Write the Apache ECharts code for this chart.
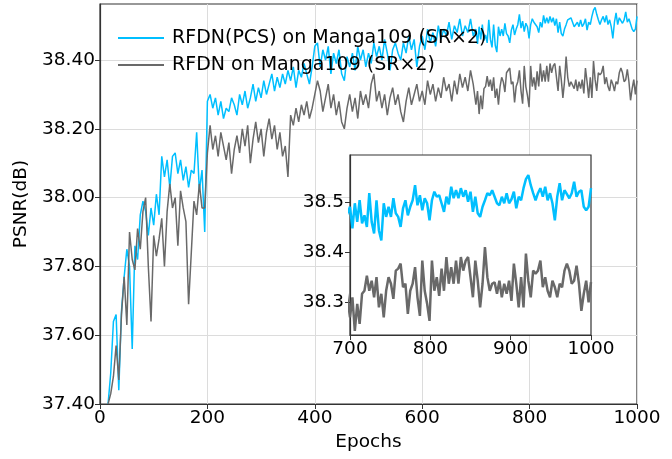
<!DOCTYPE html>
<html>
<head>
<meta charset="utf-8">
<script src="https://cdn.jsdelivr.net/npm/echarts@6/dist/echarts.min.js"></script>
<style>
html,body{margin:0;padding:0;background:#fff;}
#c{width:672px;height:459px;}
</style>
</head>
<body>
<div id="c"></div>
<script>
// ---------- data ----------
const seriesNames = ['RFDN(PCS) on Manga109 (SR\u00d72)', 'RFDN on Manga109 (SR\u00d72)'];
const xTicks = [0, 200, 400, 600, 800, 1000];
const yTicks = [37.40, 37.60, 37.80, 38.00, 38.20, 38.40];
const insetXTicks = [700, 800, 900, 1000];
const insetYTicks = [38.3, 38.4, 38.5];

// epochs 15..695 every 5
const epochsEarly = [];
for (let e = 15; e <= 695; e += 5) epochsEarly.push(e);
// epochs 700..997 every 3, then 1000
const epochsLate = [];
for (let e = 700; e <= 997; e += 3) epochsLate.push(e);
epochsLate.push(1000);

const pcsEarly = [
37.40,37.49,37.64,37.66,37.44,37.67,37.77,37.85,37.80,37.56,
37.86,37.82,37.95,37.99,37.96,37.89,37.97,37.92,38.01,37.95,
38.12,38.06,38.11,38.03,38.12,38.13,38.07,38.11,38.05,38.09,
38.03,38.08,38.07,38.19,38.02,38.08,37.90,38.28,38.30,38.26,
38.29,38.24,38.28,38.23,38.26,38.25,38.29,38.27,38.24,38.30,
38.27,38.31,38.26,38.29,38.33,38.28,38.32,38.29,38.34,38.30,
38.33,38.36,38.31,38.35,38.32,38.36,38.33,38.37,38.34,38.38,
38.32,38.37,38.35,38.39,38.36,38.33,38.38,38.44,38.45,38.38,
38.43,38.40,38.44,38.36,38.42,38.39,38.43,38.36,38.34,38.41,
38.38,38.42,38.37,38.44,38.40,38.43,38.38,38.42,38.39,38.45,
38.41,38.44,38.40,38.46,38.42,38.37,38.43,38.45,38.42,38.40,
38.45,38.42,38.47,38.43,38.46,38.38,38.44,38.47,38.43,38.49,
38.45,38.48,38.44,38.50,38.46,38.49,38.47,38.51,38.46,38.50,
38.48,38.52,38.47,38.50,38.48,38.52,38.47
];
const baseEarly = [
37.40,37.43,37.48,37.57,37.47,37.66,37.77,37.63,37.90,37.82,
37.79,37.91,37.85,37.96,38.00,37.80,37.64,37.89,37.83,37.88,
37.94,37.80,37.96,38.04,37.97,38.00,37.86,38.02,37.97,37.93,
37.69,37.84,37.99,37.95,38.04,37.97,37.97,38.13,38.21,38.14,
38.18,38.12,38.19,38.15,38.11,38.16,38.07,38.14,38.18,38.13,
38.20,38.15,38.21,38.10,38.17,38.22,38.16,38.20,38.12,38.19,
38.23,38.17,38.21,38.14,38.19,38.12,38.15,38.06,38.24,38.21,
38.26,38.22,38.27,38.24,38.28,38.23,38.26,38.30,38.34,38.31,
38.25,38.29,38.33,38.26,38.30,38.24,38.28,38.22,38.20,38.26,
38.30,38.25,38.29,38.23,38.31,38.27,38.30,38.26,38.33,38.36,
38.28,38.31,38.26,38.30,38.24,38.29,38.32,38.27,38.30,38.25,
38.22,38.28,38.32,38.27,38.30,38.33,38.28,38.31,38.27,38.34,
38.30,38.33,38.28,38.32,38.29,38.35,38.31,38.33,38.28,38.34,
38.30,38.36,38.32,38.35,38.31,38.37,38.33
];
const pcsLate = [
38.490,38.447,38.497,38.460,38.503,38.457,38.473,38.450,38.517,38.460,
38.437,38.503,38.443,38.423,38.497,38.470,38.490,38.470,38.507,38.477,
38.470,38.450,38.487,38.503,38.473,38.490,38.503,38.533,38.493,38.513,
38.483,38.507,38.497,38.463,38.503,38.520,38.510,38.513,38.497,38.480,
38.510,38.495,38.530,38.507,38.523,38.507,38.527,38.510,38.523,38.500,
38.520,38.480,38.510,38.477,38.470,38.490,38.503,38.517,38.513,38.523,
38.510,38.497,38.493,38.510,38.497,38.517,38.497,38.505,38.520,38.487,
38.510,38.503,38.527,38.545,38.553,38.533,38.517,38.503,38.517,38.527,
38.510,38.530,38.503,38.517,38.497,38.463,38.510,38.537,38.503,38.523,
38.515,38.507,38.517,38.540,38.510,38.520,38.523,38.490,38.483,38.490,
38.527
];
const baseLate = [
38.270,38.310,38.243,38.297,38.257,38.317,38.323,38.353,38.323,38.343,
38.310,38.350,38.290,38.317,38.270,38.323,38.350,38.337,38.307,38.363,
38.367,38.377,38.330,38.337,38.277,38.323,38.337,38.370,38.310,38.273,
38.383,38.323,38.297,38.263,38.383,38.323,38.350,38.313,38.367,38.323,
38.390,38.337,38.370,38.337,38.383,38.337,38.390,38.363,38.383,38.390,
38.350,38.310,38.383,38.343,38.290,38.337,38.410,38.350,38.323,38.337,
38.340,38.317,38.343,38.310,38.337,38.317,38.343,38.303,38.377,38.337,
38.290,38.350,38.290,38.397,38.343,38.310,38.363,38.357,38.363,38.383,
38.330,38.350,38.323,38.310,38.343,38.330,38.310,38.337,38.330,38.363,
38.377,38.363,38.337,38.343,38.373,38.337,38.283,38.317,38.343,38.300,
38.340
];

// ---------- build ----------
const BLUE = '#00BFFF', GRAY = '#696969';
const FONT = 'DejaVu Sans';
const epochs = epochsEarly.concat(epochsLate);
function pairs(vals) { return epochs.map((e, i) => [e, vals[i]]); }
const pcsData = pairs(pcsEarly.concat(pcsLate));
const baseData = pairs(baseEarly.concat(baseLate));

const chart = echarts.init(document.getElementById('c'), null, {renderer: 'canvas'});
const labelStyle = {color: '#000', fontSize: 18.5, fontFamily: FONT};

chart.setOption({
  animation: false,
  backgroundColor: '#fff',
  textStyle: {fontFamily: FONT},
  legend: {
    data: seriesNames,
    orient: 'vertical',
    left: 113, top: 23,
    itemWidth: 46, itemHeight: 2, itemGap: 7,
    icon: 'rect',
    textStyle: {fontSize: 19, fontFamily: FONT, color: '#000', lineHeight: 20, padding: [0, 0, 0, 3]}
  },
  grid: [
    {left: 100, right: 35, top: 4, bottom: 55, show: true, borderColor: '#333', borderWidth: 1.2, backgroundColor: 'transparent', z: 0},
    {left: 350, top: 155, width: 241, height: 180, show: true, borderColor: '#333', borderWidth: 1.2, backgroundColor: '#fff', z: 5}
  ],
  xAxis: [
    {
      gridIndex: 0, type: 'value', min: 0, max: 1000, interval: 200,
      name: 'Epochs', nameLocation: 'middle', nameGap: 28,
      nameTextStyle: {fontSize: 18.5, fontFamily: FONT, color: '#000'},
      axisLine: {show: true, lineStyle: {color: '#333', width: 1.2}},
      axisTick: {show: true, inside: false, length: 5, lineStyle: {color: '#333'}, customValues: xTicks},
      axisLabel: {...labelStyle, margin: 5, customValues: xTicks, formatter: v => String(Math.round(v))},
      splitLine: {show: true, lineStyle: {color: '#dcdcdc', width: 1}}
    },
    {
      gridIndex: 1, type: 'value', min: 700, max: 1000, interval: 100, z: 6,
      axisLine: {show: true, lineStyle: {color: '#333', width: 1.2}},
      axisTick: {show: true, inside: false, length: 5, lineStyle: {color: '#333'}, customValues: insetXTicks},
      axisLabel: {...labelStyle, margin: 5, customValues: insetXTicks, formatter: v => String(Math.round(v))},
      splitLine: {show: false}
    }
  ],
  yAxis: [
    {
      gridIndex: 0, type: 'value', min: 37.40, max: 38.563, interval: 0.2,
      name: 'PSNR(dB)', nameLocation: 'middle', nameGap: 64,
      nameTextStyle: {fontSize: 18.5, fontFamily: FONT, color: '#000'},
      axisLine: {show: true, lineStyle: {color: '#333', width: 1.2}},
      axisTick: {show: true, inside: false, length: 5, lineStyle: {color: '#333'}, customValues: yTicks},
      axisLabel: {...labelStyle, margin: 5, customValues: yTicks, formatter: v => Number(v).toFixed(2)},
      splitLine: {show: true, lineStyle: {color: '#dcdcdc', width: 1}}
    },
    {
      gridIndex: 1, type: 'value', min: 38.235, max: 38.593, z: 6,
      axisLine: {show: true, lineStyle: {color: '#333', width: 1.2}},
      axisTick: {show: true, inside: false, length: 5, lineStyle: {color: '#333'}, customValues: insetYTicks},
      axisLabel: {...labelStyle, margin: 6, customValues: insetYTicks, formatter: v => Number(v).toFixed(1)},
      splitLine: {show: false}
    }
  ],
  series: [
    {name: seriesNames[0], type: 'line', xAxisIndex: 0, yAxisIndex: 0, data: pcsData, showSymbol: false, symbol: 'none',
     lineStyle: {color: BLUE, width: 1.5}, itemStyle: {color: BLUE}, z: 2, clip: true},
    {name: seriesNames[1], type: 'line', xAxisIndex: 0, yAxisIndex: 0, data: baseData, showSymbol: false, symbol: 'none',
     lineStyle: {color: GRAY, width: 1.5}, itemStyle: {color: GRAY}, z: 3, clip: true},
    {name: seriesNames[0], type: 'line', xAxisIndex: 1, yAxisIndex: 1, data: pcsData, showSymbol: false, symbol: 'none',
     lineStyle: {color: BLUE, width: 2.5}, itemStyle: {color: BLUE}, z: 7, clip: true},
    {name: seriesNames[1], type: 'line', xAxisIndex: 1, yAxisIndex: 1, data: baseData, showSymbol: false, symbol: 'none',
     lineStyle: {color: GRAY, width: 2.5}, itemStyle: {color: GRAY}, z: 7, clip: true}
  ]
});
</script>
</body>
</html>
